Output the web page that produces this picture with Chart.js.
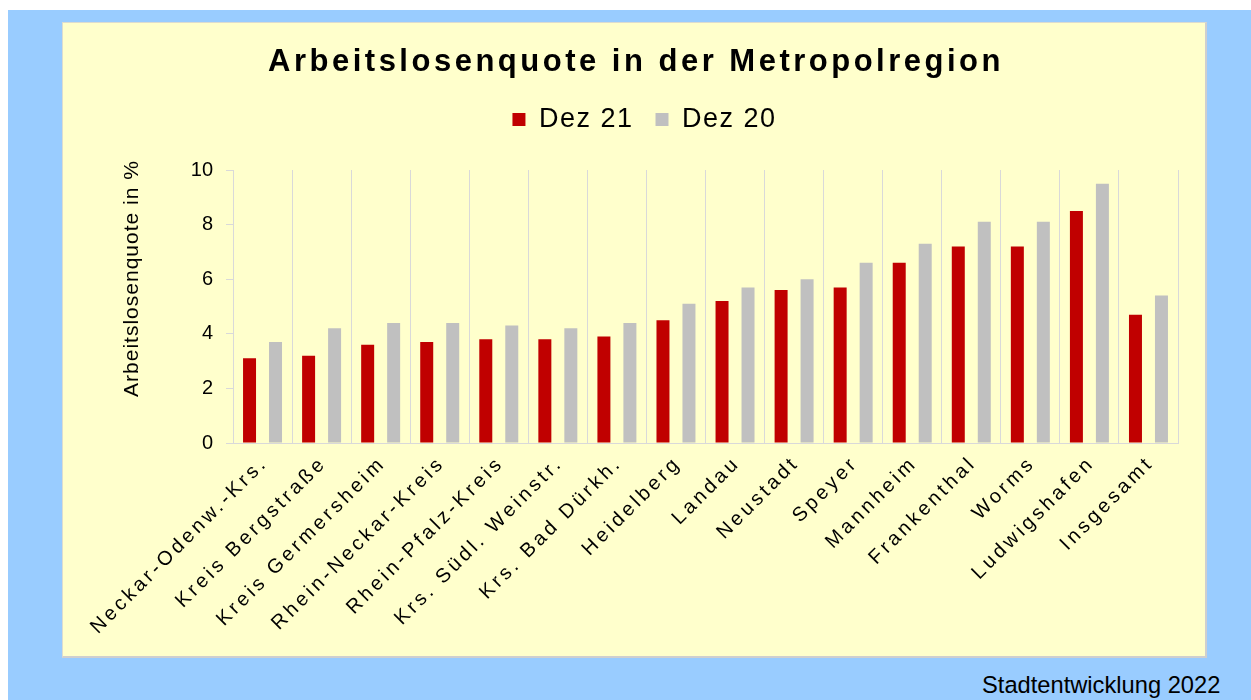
<!DOCTYPE html>
<html>
<head>
<meta charset="utf-8">
<script src="https://cdn.jsdelivr.net/npm/chart.js@4"></script>
<style>
  body { margin: 0; width: 1251px; height: 700px; overflow: hidden; background: #fff; font-family: "Liberation Sans", Arial, sans-serif; }
  #frame { position: absolute; left: 8px; top: 10px; width: 1243px; height: 690px; background: #99ccff; }
  #panel { position: absolute; left: 54px; top: 12px; width: 1142px; height: 633px; background: #ffffcc;
           border: 1px solid #dcdcd0; border-right: 2px solid #cfcfcf; border-bottom: 2px solid #cfcfcf; }
  #title { position: absolute; left: 0; top: 22px; width: 1142px; text-align: center; padding-left: 4px; box-sizing: border-box;
           font: bold 31px/31px "Liberation Sans", Arial, sans-serif; letter-spacing: 3.5px; color: #000; }
  #chart { position: absolute; left: 0; top: 0; }
  #credit { position: absolute; left: 982px; top: 673px; font: 23.7px/24px "Liberation Sans", Arial, sans-serif; color: #000; }
</style>
</head>
<body>
<div id="frame">
  <div id="panel">
    <canvas id="chart" width="1142" height="633"></canvas>
    <div id="title">Arbeitslosenquote in der Metropolregion</div>
  </div>
</div>
<div id="credit">Stadtentwicklung 2022</div>
<script>
// Werte
const categories = ['Neckar-Odenw.-Krs.', 'Kreis Bergstraße', 'Kreis Germersheim', 'Rhein-Neckar-Kreis',
  'Rhein-Pfalz-Kreis', 'Krs. Südl. Weinstr.', 'Krs. Bad Dürkh.', 'Heidelberg', 'Landau', 'Neustadt',
  'Speyer', 'Mannheim', 'Frankenthal', 'Worms', 'Ludwigshafen', 'Insgesamt'];
const dez21 = [3.1, 3.2, 3.6, 3.7, 3.8, 3.8, 3.9, 4.5, 5.2, 5.6, 5.7, 6.6, 7.2, 7.2, 8.5, 4.7];
const dez20 = [3.7, 4.2, 4.4, 4.4, 4.3, 4.2, 4.4, 5.1, 5.7, 6.0, 6.6, 7.3, 8.1, 8.1, 9.5, 5.4];
const seriesNames = ['Dez 21', 'Dez 20'];
const yTicks = [0, 2, 4, 6, 8, 10];
const yTitle = 'Arbeitslosenquote in %';

const fontFamily = '"Liberation Sans", Arial, sans-serif';

// letter spacing for legend text, reset before the value labels are drawn
const spacingPlugin = {
  id: 'spacing',
  beforeInit(chart) {
    const fit = chart.legend.fit;
    chart.legend.fit = function() {
      fit.call(this);
      this.height = 86;
    };
  },
  beforeLayout(chart) { chart.ctx.letterSpacing = '1.5px'; },
  afterLayout(chart) {
    // legend sits a little right of centre in the original
    chart.legend.left += 24;
    chart.legend.right += 24;
  },
  beforeDraw(chart) { chart.ctx.letterSpacing = '1.5px'; },
  beforeDatasetsDraw(chart) { chart.ctx.letterSpacing = '0px'; }
};

// rotated category labels and axis title
const labelsPlugin = {
  id: 'labels',
  afterDraw(chart) {
    const ctx = chart.ctx;
    const xs = chart.scales.x;
    const area = chart.chartArea;
    ctx.save();
    ctx.fillStyle = '#000';
    ctx.font = '20px ' + fontFamily;
    ctx.letterSpacing = '3.4px';
    ctx.textAlign = 'right';
    ctx.textBaseline = 'alphabetic';
    categories.forEach(function(name, i) {
      const x = xs.getPixelForValue(i);
      ctx.save();
      ctx.translate(x + 6, xs.top + 21);
      ctx.rotate(-Math.PI / 4);
      ctx.fillText(name, 0, 0);
      ctx.restore();
    });

    ctx.font = '21px ' + fontFamily;
    ctx.letterSpacing = '1px';
    ctx.textAlign = 'center';
    ctx.textBaseline = 'middle';
    ctx.translate(69, area.top + (area.bottom - area.top) / 2 - 28);
    ctx.rotate(-Math.PI / 2);
    ctx.fillText(yTitle, 0, 0);
    ctx.restore();
  }
};

const ctx = document.getElementById('chart').getContext('2d');
const chart = new Chart(ctx, {
  type: 'bar',
  data: {
    labels: categories,
    datasets: [{
      label: seriesNames[0],
      data: dez21,
      backgroundColor: '#c00000',
      borderWidth: 0,
      categoryPercentage: 0.88,
      barPercentage: 0.5
    }, {
      label: seriesNames[1],
      data: dez20,
      backgroundColor: '#c0c0c0',
      borderWidth: 0,
      categoryPercentage: 0.88,
      barPercentage: 0.5
    }]
  },
  options: {
    responsive: false,
    animation: false,
    layout: {
      padding: { top: 61, right: 27, bottom: 0, left: 0 }
    },
    scales: {
      x: {
        grid: {
          color: '#d9d9d9',
          offset: true,
          drawTicks: false
        },
        border: { color: '#d9d9d9' },
        ticks: { display: false },
        afterFit: function(scale) { scale.height = 213; }
      },
      y: {
        min: yTicks[0],
        max: yTicks[yTicks.length - 1],
        grid: {
          drawOnChartArea: false,
          color: '#d9d9d9',
          tickLength: 7
        },
        border: { color: '#d9d9d9' },
        ticks: {
          stepSize: yTicks[1] - yTicks[0],
          color: '#000',
          padding: 13,
          z: 1,
          font: { family: fontFamily, size: 20 }
        },
        afterFit: function(scale) { scale.width = 170; }
      }
    },
    plugins: {
      legend: {
        position: 'top',
        labels: {
          color: '#000',
          boxWidth: 13,
          boxHeight: 13,
          padding: 22,
          font: { family: fontFamily, size: 27 }
        }
      },
      tooltip: { enabled: false }
    }
  },
  plugins: [spacingPlugin, labelsPlugin]
});
</script>
</body>
</html>
